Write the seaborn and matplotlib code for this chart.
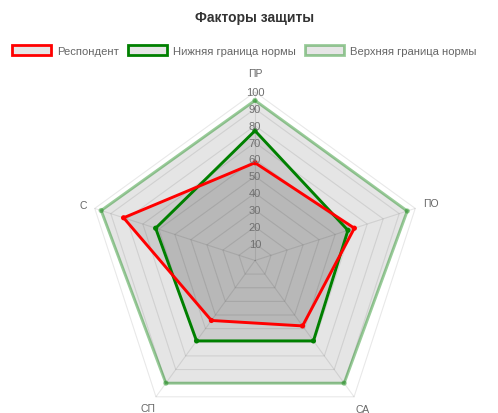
import numpy as np
import matplotlib
matplotlib.use("Agg")
import matplotlib.pyplot as plt
from matplotlib.patches import Patch
import seaborn as sns

# axes of the radar, clockwise from the top
labels = ["ПР", "ПО", "СА", "СП", "С"]
respondent = [58, 62, 48, 44, 82]
lower_norm = [77, 58, 59, 59, 62]
upper_norm = [95, 95, 90, 90, 96]
series_names = ["Респондент", "Нижняя граница нормы", "Верхняя граница нормы"]
series_colors = ["#ff0000", "#008000", (0.0, 0.5, 0.0, 0.4)]
ticks = [10, 20, 30, 40, 50, 60, 70, 80, 90, 100]

sns.set_theme(style="white")
plt.rcParams["font.family"] = ["Liberation Sans", "DejaVu Sans"]

fig = plt.figure(figsize=(4.98, 4.14), dpi=100)
ax = fig.add_axes([0.1737, -0.0386, 0.6767, 0.814], projection="polar")
ax.set_theta_offset(np.pi / 2)
ax.set_theta_direction(-1)
ax.set_axis_off()

angles = np.linspace(0, 2 * np.pi, len(labels), endpoint=False)
closed = np.append(angles, 2 * np.pi)
grid_col = (0, 0, 0, 0.09)

# pentagon grid + spokes
for t in ticks:
    ax.plot(closed, [t] * len(closed), color=grid_col, lw=0.8, clip_on=False, zorder=1)
for a in angles:
    ax.plot([a, a], [0, ticks[-1]], color=grid_col, lw=0.8, clip_on=False, zorder=1)

# datasets, drawn last-to-first like chart.js
all_series = [respondent, lower_norm, upper_norm]
for i in [2, 1, 0]:
    vals = all_series[i]
    vals_closed = vals + vals[:1]
    ax.fill(closed, vals_closed, color=(0, 0, 0, 0.1), lw=0, zorder=2)
    sns.lineplot(x=closed, y=vals_closed, sort=False, estimator=None,
                 color=series_colors[i], lw=2.1, ax=ax, zorder=5 - i)
    sns.scatterplot(x=angles, y=vals, color=series_colors[i], s=14,
                    edgecolor="none", ax=ax, zorder=6 - i)
for ln in ax.lines + ax.collections:
    ln.set_clip_on(False)

ax.set_ylim(0, 100)

# radial tick labels
for t in ticks:
    ax.text(0, t, str(t), ha="center", va="center", fontsize=8, color="#707070", zorder=10)

# point labels
label_r = [111, 110, 109, 108, 107]
for a, lab, r in zip(angles, labels, label_r):
    ax.text(a, r, lab, ha="center", va="center", fontsize=7.5, color="#666666")

fig.text(255 / 498, 1 - 18 / 414, "Факторы защиты", ha="center", va="center",
         fontsize=10, weight="bold", color="#333333")

handles = [Patch(facecolor="#e6e6e6", edgecolor=c, linewidth=2) for c in series_colors]
fig.legend(handles, series_names, loc="upper left", bbox_to_anchor=(12 / 498, 1 - 46 / 414),
           ncol=3, frameon=False, fontsize=8.1, handlelength=3.5, handleheight=1.05,
           handletextpad=0.5, columnspacing=0.8, borderpad=0, borderaxespad=0,
           labelcolor="#666666")

fig.savefig("out.png", dpi=100)
